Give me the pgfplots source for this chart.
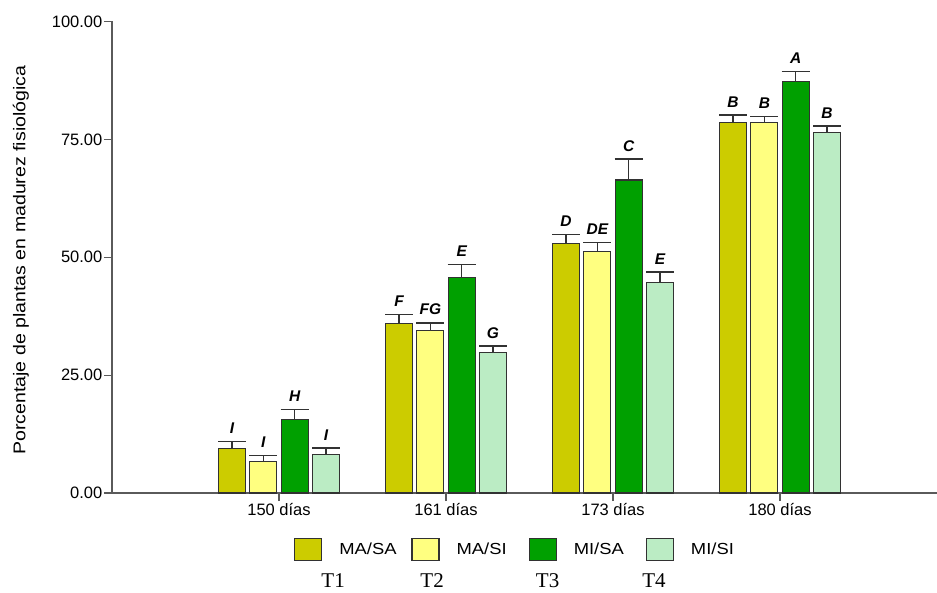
\documentclass[border=0pt]{standalone}
\usepackage{pgfplots}
\pgfplotsset{compat=1.18}
\usepackage{pgfplotstable}
\usepackage{fontspec}
\setmainfont{Liberation Sans}
\newfontfamily\timesf{Liberation Serif}
\newfontfamily\labelsans[FakeStretch=1.15]{Liberation Sans}

\definecolor{cTone}{RGB}{204,204,0}
\definecolor{cTtwo}{RGB}{255,255,128}
\definecolor{cTthree}{RGB}{0,160,0}
\definecolor{cTfour}{RGB}{187,236,196}
\definecolor{axgray}{RGB}{90,90,90}
\definecolor{edge}{RGB}{50,50,50}

% x: sampling date index, y: mean percentage, err: standard error, lab: Tukey group
\pgfplotstableread{
x y err lab
1 9.5 1.4 I
2 35.9 2.0 F
3 53.0 1.8 D
4 78.5 1.7 B
}\tone
\pgfplotstableread{
x y err lab
1 6.6 1.4 I
2 34.5 1.6 FG
3 51.2 1.9 DE
4 78.5 1.4 B
}\ttwo
\pgfplotstableread{
x y err lab
1 15.6 2.1 H
2 45.7 2.8 E
3 66.4 4.4 C
4 87.2 2.2 A
}\tthree
\pgfplotstableread{
x y err lab
1 8.1 1.4 I
2 29.8 1.4 G
3 44.7 2.2 E
4 76.5 1.3 B
}\tfour

\pgfplotsset{
  meanbar/.style={fill=#1, draw=edge, line width=1.2pt,
    error bars/y dir=plus, error bars/y explicit,
    error bars/error mark options={rotate=90, line width=1.5pt, mark size=14pt, draw=edge},
    error bars/error bar style={line width=1.5pt, draw=edge}},
  grouplabel/.style={draw=none, fill=none, forget plot,
    point meta=explicit symbolic, nodes near coords,
    every node near coord/.append style={anchor=south, text=black,
      font=\fontsize{15.5}{18}\selectfont\bfseries\itshape, inner sep=2pt, yshift=5.5pt}},
}

\begin{document}
\begin{tikzpicture}
\begin{axis}[
  scale only axis,
  width=825pt, height=471.5pt,
  xmin=0, xmax=4.94,
  ymin=0, ymax=100,
  axis lines*=left,
  axis line style={axgray, line width=1.6pt},
  every tick/.style={axgray, line width=1.2pt},
  tick align=outside,
  major tick length=8pt,
  xtick={1,2,3,4},
  xticklabels={150 días,161 días,173 días,180 días},
  ytick={0,25,50,75,100},
  yticklabels={0.00,25.00,50.00,75.00,100.00},
  ticklabel style={font=\fontsize{16.5}{19}\selectfont, text=black},
  yticklabel style={inner sep=1.5pt},
  xticklabel style={inner sep=2pt},
  ylabel={Porcentaje de plantas en madurez fisiológica},
  every axis y label/.style={at={(axis description cs:-0.1103,0.494)}, rotate=90, anchor=center,
    font=\labelsans\fontsize{17}{20}\selectfont},
  ybar,
  bar width=27pt,
  enlargelimits=false,
  clip=false,
  legend columns=4,
  legend style={draw=none, fill=none, inner sep=0pt,
    at={(axis description cs:0.2206,-0.119)}, anchor=west,
    nodes={inner sep=0pt, font=\labelsans\fontsize{16}{19}\selectfont},
    /tikz/every odd column/.append style={column sep=17pt},
    /tikz/every even column/.append style={column sep=0pt}},
  legend image code/.code={\draw[#1, line width=1.2pt] (0pt,-11pt) rectangle (27pt,11pt);},
]
\addplot[meanbar=cTone, bar shift=-47pt] table[x=x, y=y, y error=err] {\tone};
\addlegendentry{\makebox[72pt][l]{MA/SA}}
\addplot[meanbar=cTtwo, bar shift=-15.67pt] table[x=x, y=y, y error=err] {\ttwo};
\addlegendentry{\makebox[72pt][l]{MA/SI}}
\addplot[meanbar=cTthree, bar shift=15.67pt] table[x=x, y=y, y error=err] {\tthree};
\addlegendentry{\makebox[72pt][l]{MI/SA}}
\addplot[meanbar=cTfour, bar shift=47pt] table[x=x, y=y, y error=err] {\tfour};
\addlegendentry{MI/SI}

% group letters sit on top of each error bar
\addplot[grouplabel, bar shift=-47pt] table[x=x, y expr=\thisrow{y}+\thisrow{err}, meta=lab] {\tone};
\addplot[grouplabel, bar shift=-15.67pt] table[x=x, y expr=\thisrow{y}+\thisrow{err}, meta=lab] {\ttwo};
\addplot[grouplabel, bar shift=15.67pt] table[x=x, y expr=\thisrow{y}+\thisrow{err}, meta=lab] {\tthree};
\addplot[grouplabel, bar shift=47pt] table[x=x, y expr=\thisrow{y}+\thisrow{err}, meta=lab] {\tfour};

\node[font=\timesf\fontsize{21}{24}\selectfont, inner sep=0pt] at (axis description cs:0.268,-0.185) {T1};
\node[font=\timesf\fontsize{21}{24}\selectfont, inner sep=0pt] at (axis description cs:0.388,-0.185) {T2};
\node[font=\timesf\fontsize{21}{24}\selectfont, inner sep=0pt] at (axis description cs:0.528,-0.185) {T3};
\node[font=\timesf\fontsize{21}{24}\selectfont, inner sep=0pt] at (axis description cs:0.657,-0.185) {T4};
\end{axis}
\pgfresetboundingbox
\path[use as bounding box] (-112pt,-99pt) rectangle (825pt,493pt);
\end{tikzpicture}
\end{document}
